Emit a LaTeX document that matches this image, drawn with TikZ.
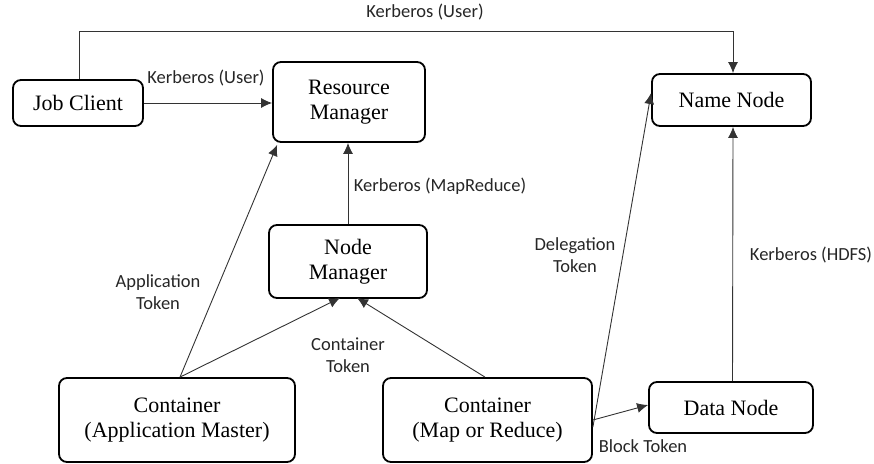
\documentclass[tikz,border=0pt]{standalone}
\usepackage{fontspec}
\setmainfont{Liberation Serif}
\newfontfamily\lblfont{Carlito}
\usetikzlibrary{arrows.meta,positioning,calc}

\begin{document}
\begin{tikzpicture}[x=1pt,y=-1pt,
    box/.style={draw=black,line width=1.8pt,rounded corners=8pt,align=center,
      font=\fontsize{22}{25}\selectfont,inner sep=0pt},
    link/.style={-{Latex[length=11pt,width=10pt]},black!80,line width=0.9pt},
    lbl/.style={font=\lblfont\fontsize{18.5}{22}\selectfont,text=black!85,align=center,inner sep=1pt}]

      \useasboundingbox (0,0) rectangle (874,463);

      % the boxes
      \node[box,minimum width=130pt,minimum height=46pt] (jc) at (78,103) {Job Client};
      \node[box,minimum width=152pt,minimum height=80pt] (rm) at (349,102) {Resource\\Manager};
      \node[box,minimum width=159pt,minimum height=52pt] (nn) at (731.5,100) {Name Node};
      \node[box,minimum width=158pt,minimum height=73pt] (nm) at (348,261.5) {Node\\Manager};
      \node[box,minimum width=236pt,minimum height=84pt] (am) at (177,420) {Container\\(Application Master)};
      \node[box,minimum width=209pt,minimum height=84pt] (mr) at (487.5,420) {Container\\(Map or Reduce)};
      \node[box,minimum width=164pt,minimum height=51pt] (dn) at (731,407.5) {Data Node};

      % the links
      \draw [link] ([xshift=1pt]jc.north) |- (79,31) -| ([xshift=1.5pt]nn.north);
      \node[lbl] (l1) at (425,12) {Kerberos (User)};

      \draw [link] (jc.east) -- (rm.west |- jc.east);
      \node[lbl] (l2) at (206,78) {Kerberos (User)};

      \draw [link] ([xshift=3pt]am.north) -- ([xshift=5pt,yshift=-2pt]rm.south west);
      \node[lbl] (l3) at (158,292) {Application\\Token};

      \draw [link] (nm.north) -- (nm.north |- rm.south);
      \node[lbl] (l4) at (440,186) {Kerberos (MapReduce)};

      \draw [link] ([xshift=3pt]am.north) -- ([xshift=-8pt,yshift=1pt]nm.south);
      \draw [link] ([xshift=-2.5pt]mr.north) -- ([xshift=9pt,yshift=1pt]nm.south);
      \node[lbl] (l5) at (348,355) {Container\\Token};

      \draw [link] ([yshift=-7pt]mr.east) -- ([yshift=7pt]nn.west);
      \node[lbl] (l6) at (575,255) {Delegation\\Token};

      \draw [link] (mr.east) -- ([yshift=2.5pt]dn.west);
      \node[lbl] (l7) at (643,446) {Block Token};

      \draw [link] ([xshift=1.5pt]dn.north) -- ([xshift=1.5pt]nn.south);
      \node[lbl] (l8) at (811,255) {Kerberos (HDFS)};

\end{tikzpicture}
\end{document}
